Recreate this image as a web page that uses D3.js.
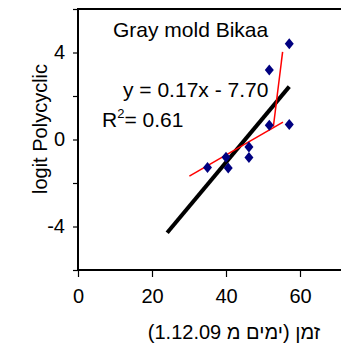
<!DOCTYPE html>
<html>
<head>
<meta charset="utf-8">
<script src="https://cdn.jsdelivr.net/npm/d3@7"></script>
<style>
  body{margin:0;background:#fff;}
  text{font-family:"Liberation Sans",Arial,sans-serif;fill:#000;}
</style>
</head>
<body>
<div id="canvas"></div>
<script>
// data
var days = [35, 40, 40.6, 46.2, 46.2, 51.7, 51.7, 57.1, 57.1];
var logitPoly = [-1.29, -0.82, -1.31, -0.34, -0.83, 3.2, 0.66, 4.4, 0.69];
var trendX = [24.1, 57.1], trendY = [-4.29, 2.43];
var redAX = [30.1, 55.4], redAY = [-1.68, 0.8];
var redBX = [52.8, 55.3], redBY = [0.59, 4.03];
var xTicks = [0, 20, 40, 60];
var yTicks = [-6, -4, -2, 0, 2, 4, 6];
var yLabels = [-4, 0, 4];

var W = 341, H = 347;
var svg = d3.select('#canvas').append('svg')
    .attr('width', W).attr('height', H);

var scaleX = d3.scaleLinear().domain([0, 80]).range([78, 374]);
var scaleY = d3.scaleLinear().domain([-6, 6]).range([270, 9]);

//axes
var axisX = d3.axisBottom(scaleX).tickValues(xTicks).tickSize(7).tickPadding(12);
var gx = svg.append('g').attr('transform', 'translate(0,' + scaleY(-6) + ')').call(axisX);
gx.select('.domain').remove();
gx.selectAll('text').style('font-size', '20px').attr('fill', '#000');

var axisY = d3.axisLeft(scaleY).tickValues(yTicks).tickSize(5).tickPadding(8)
    .tickFormat(function(d){ return yLabels.indexOf(d) >= 0 ? d : ''; });
var gy = svg.append('g').attr('transform', 'translate(' + scaleX(0) + ',0)').call(axisY);
gy.select('.domain').remove();
gy.selectAll('text').style('font-size', '20px').attr('fill', '#000');
svg.selectAll('.tick line').attr('stroke', '#000').attr('stroke-width', 1.2);

//frame (right side runs off the picture)
svg.append('rect')
    .attr('x', scaleX(0)).attr('y', scaleY(6))
    .attr('width', scaleX(80) - scaleX(0)).attr('height', scaleY(-6) - scaleY(6))
    .attr('fill', 'none').attr('stroke', '#000').attr('stroke-width', 2);

var line = d3.line()
    .x(function(d){ return scaleX(d[0]); })
    .y(function(d){ return scaleY(d[1]); });

svg.append('path').datum(d3.zip(trendX, trendY))
    .attr('d', line).attr('stroke', '#000').attr('stroke-width', 4).attr('fill', 'none');

[[redAX, redAY], [redBX, redBY]].forEach(function(r){
    svg.append('path').datum(d3.zip(r[0], r[1]))
        .attr('d', line).attr('stroke', '#ff0000').attr('stroke-width', 1.5).attr('fill', 'none');
});

//points
svg.selectAll('.pt').data(d3.zip(days, logitPoly)).enter()
    .append('path')
    .attr('class', 'pt')
    .attr('d', 'M0,-5.5L4.5,0L0,5.5L-4.5,0Z')
    .attr('fill', '#000080')
    .attr('transform', function(d){ return 'translate(' + scaleX(d[0]) + ',' + scaleY(d[1]) + ')'; });

//labels
svg.append('text').attr('x', 113).attr('y', 37).style('font-size', '21px').text('Gray mold Bikaa');
svg.append('text').attr('x', 123).attr('y', 97).style('font-size', '21px').text('y = 0.17x - 7.70');
var r2 = svg.append('text').attr('x', 102).attr('y', 127).style('font-size', '21px');
r2.append('tspan').text('R');
r2.append('tspan').attr('dy', -9).style('font-size', '13px').text('2');
r2.append('tspan').attr('dy', 9).text('= 0.61');

svg.append('text')
    .attr('transform', 'translate(47,129) rotate(-90)')
    .attr('text-anchor', 'middle')
    .style('font-size', '20px')
    .text('logit Polycyclic');

// x title, parens kept as they look in the original
svg.append('text')
    .attr('x', 234).attr('y', 339)
    .attr('text-anchor', 'middle')
    .attr('direction', 'rtl')
    .style('font-size', '20px')
    .text('זמן \u200E(\u200Eימים מ 1.12.09)');
</script>
</body>
</html>
